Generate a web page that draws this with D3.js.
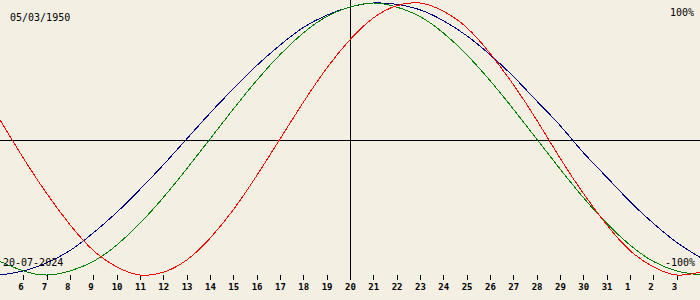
<!DOCTYPE html>
<html>
<head>
<meta charset="utf-8">
<script src="https://cdn.jsdelivr.net/npm/d3@7"></script>
<style>
  body { margin: 0; background: #f3efe3; }
  svg { display: block; }
  text { font-family: "DejaVu Sans Mono", monospace; fill: #000; }
</style>
</head>
<body>
<svg id="chart" width="700" height="300"></svg>
<script>
// days shown, 5 July 2024 .. 4 August 2024
var days = [5, 6, 7, 8, 9, 10, 11, 12, 13, 14, 15, 16, 17, 18, 19, 20,
            21, 22, 23, 24, 25, 26, 27, 28, 29, 30, 31, 1, 2, 3, 4];

// percent values read per day
var physical = [14, -14, -40, -63, -82, -94, -100, -98, -89, -73, -52, -27, 0, 27, 52, 73,
                89, 98, 100, 94, 82, 63, 40, 14, -14, -40, -63, -82, -94, -100, -98];
var emotional = [-90, -97, -100, -97, -90, -78, -62, -43, -22, 0, 22, 43, 62, 78, 90, 97,
                 100, 97, 90, 78, 62, 43, 22, 0, -22, -43, -62, -78, -90, -97, -100];
var intellectual = [-100, -97, -91, -82, -69, -54, -37, -19, 0, 19, 37, 54, 69, 82, 91, 97,
                    100, 99, 95, 87, 76, 62, 46, 28, 10, -10, -28, -46, -62, -76, -87];

var birthLabel = "05/03/1950";
var dateLabel = "20-07-2024";
var topLabel = "100%";
var bottomLabel = "-100%";

var W = 700, H = 300;
var svg = d3.select("#chart");

var x = d3.scaleLinear().domain([0, days.length - 1]).range([0, W]);
var y = d3.scaleLinear().domain([-100, 100]).range([275, 3]);
var centerIdx = days.indexOf(20);

// zero line and today line
svg.append("line")
    .attr("x1", 0).attr("x2", W)
    .attr("y1", 140.5).attr("y2", 140.5)
    .attr("stroke", "#000").attr("shape-rendering", "crispEdges");
svg.append("line")
    .attr("x1", Math.round(x(centerIdx)) + 0.5).attr("x2", Math.round(x(centerIdx)) + 0.5)
    .attr("y1", 0).attr("y2", 280)
    .attr("stroke", "#000").attr("shape-rendering", "crispEdges");

// day ticks
var tickIdx = d3.range(1, days.length - 1);
var ticks = svg.append("g");
ticks.selectAll("line").data(tickIdx).enter().append("line")
    .attr("x1", function(i) { return Math.round(x(i)) + 0.5; })
    .attr("x2", function(i) { return Math.round(x(i)) + 0.5; })
    .attr("y1", 275).attr("y2", 280)
    .attr("stroke", "#000").attr("shape-rendering", "crispEdges");
ticks.selectAll("text").data(tickIdx).enter().append("text")
    .attr("x", function(i) { return x(i) - 5; })
    .attr("y", 290)
    .style("font-size", "9px")
    .style("font-weight", "bold")
    .text(function(i) { return days[i]; });

var line = d3.line()
    .x(function(d, i) { return x(i); })
    .y(function(d) { return y(d); })
    .curve(d3.curveNatural);

var series = [
    { values: intellectual, color: "#000080" },
    { values: emotional, color: "#008000" },
    { values: physical, color: "#ff0000" }
];
series.forEach(function(s) {
    svg.append("path")
        .attr("d", line(s.values))
        .attr("fill", "none")
        .attr("stroke", s.color)
        .attr("stroke-width", 1)
        .attr("shape-rendering", "crispEdges");
});

// labels
svg.append("text").attr("x", 10).attr("y", 21).style("font-size", "10px").text(birthLabel);
svg.append("text").attr("x", 694).attr("y", 16).attr("text-anchor", "end").style("font-size", "10px").text(topLabel);
svg.append("text").attr("x", 3).attr("y", 266).style("font-size", "10px").text(dateLabel);
svg.append("text").attr("x", 695).attr("y", 266).attr("text-anchor", "end").style("font-size", "10px").text(bottomLabel);
</script>
</body>
</html>
